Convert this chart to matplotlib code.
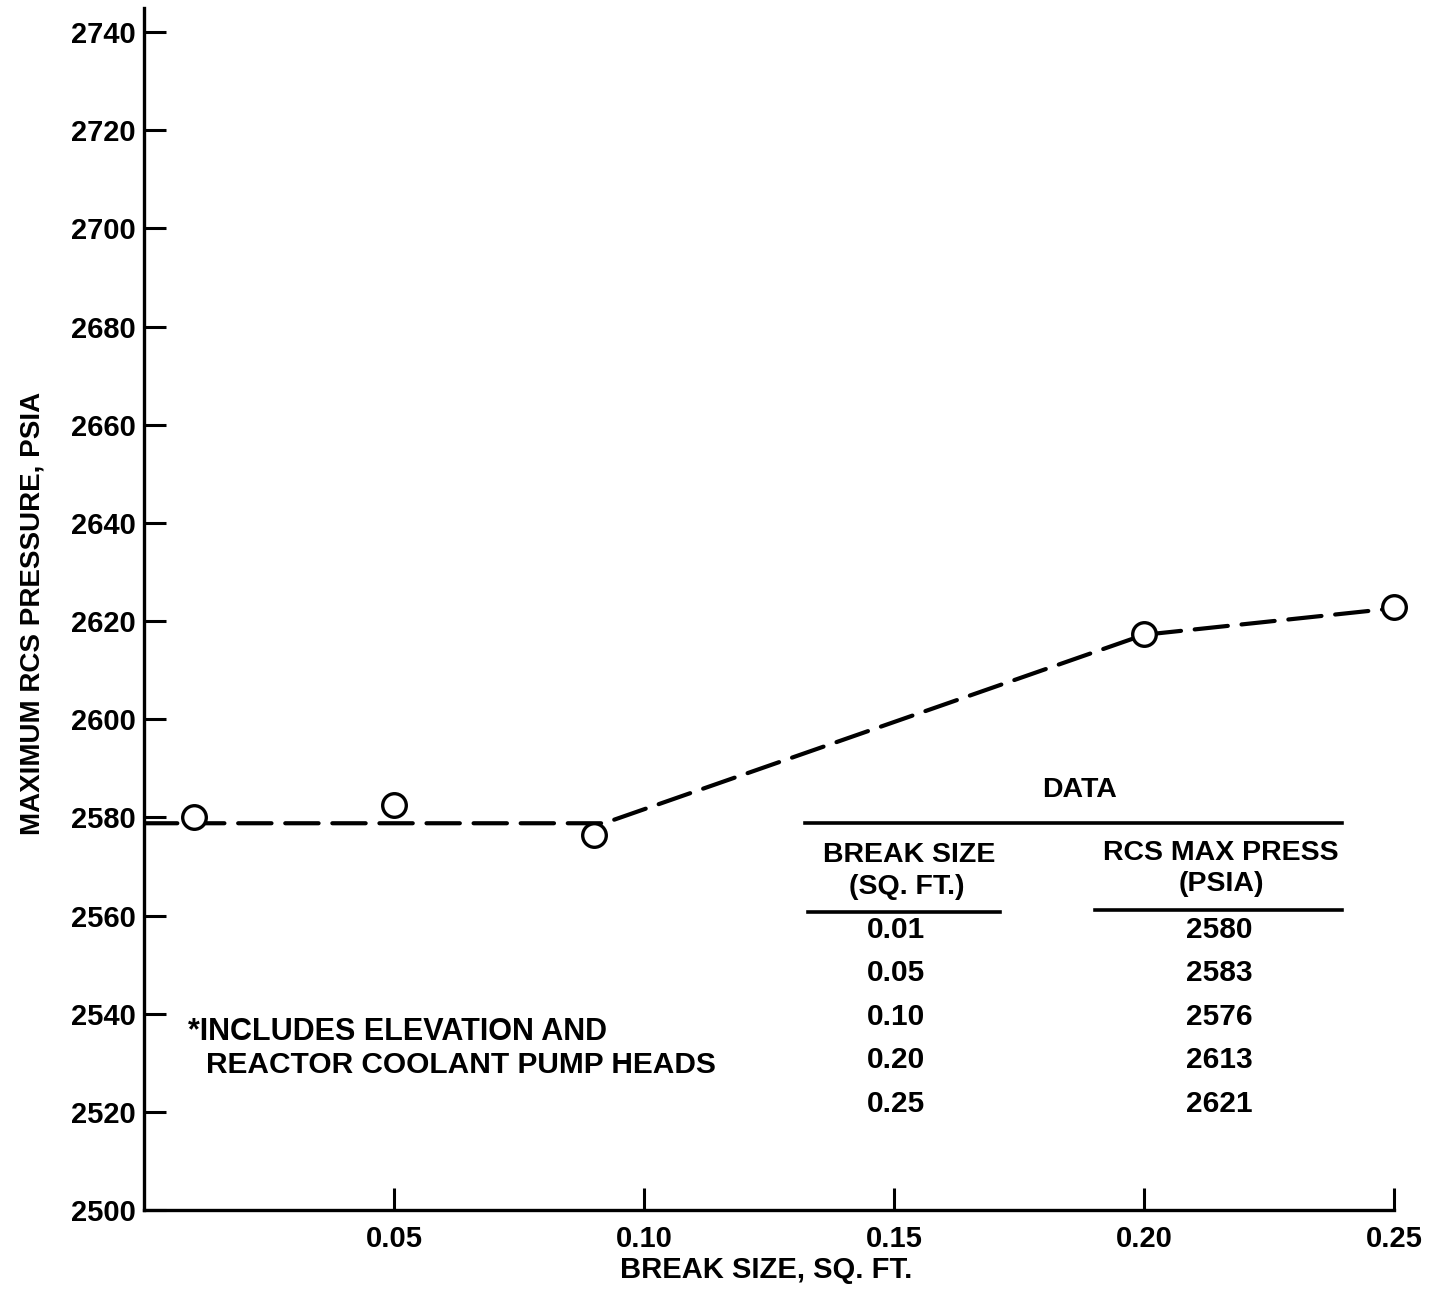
import matplotlib
matplotlib.use("Agg")
import matplotlib.pyplot as plt
from matplotlib.lines import Line2D

# --- data ---
break_size = [0.01, 0.05, 0.09, 0.20, 0.25]
max_press = [2580, 2582.5, 2576.5, 2617.4, 2622.8]

# faired curve through the points
fit_x = [0.0, 0.092, 0.20, 0.25]
fit_y = [2578.8, 2578.8, 2617.2, 2622.6]

table_size = ["0.01", "0.05", "0.10", "0.20", "0.25"]
table_press = ["2580", "2583", "2576", "2613", "2621"]

x_ticks = [0.05, 0.10, 0.15, 0.20, 0.25]
y_ticks = list(range(2500, 2741, 20))

W, H = 1443, 1292
plt.rcParams['font.family'] = ['Liberation Sans', 'DejaVu Sans']
plt.rcParams['font.weight'] = 'bold'

fig = plt.figure(figsize=(W / 100, H / 100), dpi=100)
ax = fig.add_axes([144 / W, 1 - 1210 / H, (1394 - 144) / W, (1210 - 8) / H])

ax.plot(fit_x, fit_y, color='black', lw=3.0, dashes=(8, 3.3), dash_capstyle='round',
        zorder=2)
ax.plot(break_size, max_press, 'o', ms=17, mfc='white', mec='black', mew=2.4,
        zorder=3, clip_on=False)

ax.set_xlim(0, 0.25)
ax.set_ylim(2500, 2500 + (1210 - 8) / 4.908)
ax.set_xticks(x_ticks)
ax.set_xticklabels(["%.2f" % v for v in x_ticks])
ax.set_yticks(y_ticks)
ax.tick_params(direction='in', length=16, width=2.2, labelsize=21, colors='black')
ax.tick_params(axis='x', pad=11)
ax.tick_params(axis='y', pad=6)
for lab in ax.get_xticklabels() + ax.get_yticklabels():
    lab.set_fontweight('bold')

for s in ['top', 'right']:
    ax.spines[s].set_visible(False)
for s in ['left', 'bottom']:
    ax.spines[s].set_linewidth(2.4)


def px(x, y):
    return x / W, 1 - y / H


fig.text(*px(33, 613), "MAXIMUM RCS PRESSURE, PSIA", rotation=90, ha='center',
         va='center', fontsize=20, fontweight='bold')
fig.text(*px(766, 1270), "BREAK SIZE, SQ. FT.", ha='center', va='center',
         fontsize=21, fontweight='bold')

# footnote
fig.text(*px(188, 1032), "*INCLUDES ELEVATION AND", ha='left', va='center',
         fontsize=22, fontweight='bold')
fig.text(*px(206, 1065), "REACTOR COOLANT PUMP HEADS", ha='left', va='center',
         fontsize=21.5, fontweight='bold')

# data table
fs = 20.5
fig.text(*px(1080, 790), "DATA", ha='center', va='center', fontsize=fs,
         fontweight='bold')
fig.add_artist(Line2D([805 / W, 1342 / W], [1 - 823 / H, 1 - 823 / H],
                      color='black', lw=2.6))
fig.text(*px(909, 855), "BREAK SIZE", ha='center', va='center', fontsize=fs,
         fontweight='bold')
fig.text(*px(907, 887), "(SQ. FT.)", ha='center', va='center', fontsize=fs,
         fontweight='bold')
fig.text(*px(1221, 853), "RCS MAX PRESS", ha='center', va='center', fontsize=fs,
         fontweight='bold')
fig.text(*px(1221, 884), "(PSIA)", ha='center', va='center', fontsize=fs,
         fontweight='bold')
fig.add_artist(Line2D([808 / W, 1000 / W], [1 - 912 / H, 1 - 912 / H],
                      color='black', lw=2.6))
fig.add_artist(Line2D([1095 / W, 1342 / W], [1 - 910 / H, 1 - 910 / H],
                      color='black', lw=2.6))

row_y = [930, 973, 1017, 1060, 1104]
for yy, s, p in zip(row_y, table_size, table_press):
    fig.text(*px(896, yy), s, ha='center', va='center', fontsize=21.5,
             fontweight='bold')
    fig.text(*px(1219, yy), p, ha='center', va='center', fontsize=21.5,
             fontweight='bold')

fig.savefig("out.png", dpi=100, facecolor='white')
